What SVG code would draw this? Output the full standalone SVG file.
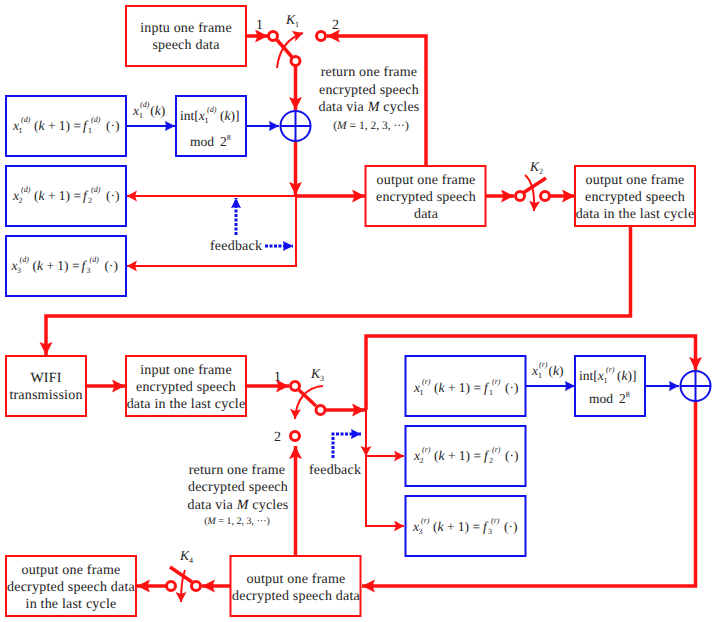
<svg xmlns="http://www.w3.org/2000/svg" width="717" height="622" viewBox="0 0 717 622">
<style>
text{font-family:"Liberation Serif","Times New Roman",serif;font-size:14px;fill:#222;letter-spacing:.2px;text-rendering:geometricPrecision}
.c{text-anchor:middle}
.m{font-size:13.5px;letter-spacing:0}
.i{font-style:italic}
.s{font-size:8px;letter-spacing:0}
.rb{fill:#fff;stroke:#f11;stroke-width:2}
.bb{fill:#fff;stroke:#11e;stroke-width:2}
.t3{fill:none;stroke:#f11;stroke-width:3.500}
.t2{fill:none;stroke:#f11;stroke-width:2}
.b2{fill:none;stroke:#11e;stroke-width:2.200}
.d{fill:none;stroke:#11e;stroke-width:3;stroke-dasharray:3 1.500}
.sw{fill:#fff;stroke:#f11;stroke-width:3}
.a{marker-end:url(#ar)}
.as{marker-end:url(#as)}
.ab{marker-end:url(#ab)}
</style>
<defs>
<marker id="ar" markerUnits="userSpaceOnUse" markerWidth="16" markerHeight="14" refX="13" refY="6.500" orient="auto"><path d="M0 0L13 6.500L0 13L2.500 6.500z" fill="#f11"/></marker>
<marker id="as" markerUnits="userSpaceOnUse" markerWidth="12" markerHeight="12" refX="10" refY="5.500" orient="auto"><path d="M0 0L10 5.500L0 11L2 5.500z" fill="#f11"/></marker>
<marker id="ab" markerUnits="userSpaceOnUse" markerWidth="12" markerHeight="12" refX="10" refY="5.500" orient="auto"><path d="M0 .5L10 5.500L0 10.500L1 5.500z" fill="#11e"/></marker>
</defs>

<g id="connectors">
<path class="t3 a" d="M246 36H268"/>
<path class="t3 a" d="M426 166V36H327"/>
<path class="t3" d="M277 40L292 57"/>
<path class="t2 as" d="M277 68C279 50 288 38 303 33"/>
<path class="t3 a" d="M295.500 66V110"/>
<path class="b2 ab" d="M126 126H175"/>
<path class="b2 ab" d="M246 126H279"/>
<path class="t3 a" d="M295.500 141V195"/>
<path class="t2 as" d="M296 196H127"/>
<path class="t3 a" d="M296 196H365"/>
<path class="t2 as" d="M296 196V266H127"/>
<path class="d ab" d="M236 235V198"/>
<path class="d ab" d="M265 246H293"/>
<path class="t3 a" d="M486 196H514"/>
<path class="t3" d="M523 193L546 178"/>
<path class="t2 as" d="M525 175C532 181 535 194 534 211"/>
<path class="t3 a" d="M550 196H575"/>
<path class="t3 a" d="M630.500 226V316H46V355"/>
<path class="t3 a" d="M86 386H125"/>
<path class="t3 a" d="M246 386H289"/>
<path class="t3" d="M299 390L316 406"/>
<path class="t2 as" d="M323 386C306 387 296 400 295 419"/>
<path class="t3 a" d="M325 410H365"/>
<path class="t3 a" d="M366 410V336H695.500V370"/>
<path class="t2 as" d="M366 410V456"/>
<path class="t2 as" d="M366 456H404"/>
<path class="t2 as" d="M366 456V526H404"/>
<path class="d ab" d="M333 458V434H361"/>
<path class="b2 ab" d="M526 386H575"/>
<path class="b2 ab" d="M645 386H679"/>
<path class="t3 a" d="M695.500 401V586H362"/>
<path class="t3 a" d="M295.500 556V446"/>
<path class="t3 a" d="M230 586H202"/>
<path class="t3" d="M170 567L192 582"/>
<path class="t2 as" d="M185 570C182 578 181 590 181 602"/>
<path class="t3 a" d="M166 586H137"/>
</g>

<g id="switches">
<circle class="sw" cx="273" cy="36" r="4.500"/><circle class="sw" cx="321" cy="36" r="4.500"/><circle class="sw" cx="295.500" cy="61" r="4.500"/>
<circle class="sw" cx="520" cy="196" r="4.500"/><circle class="sw" cx="545" cy="196" r="4.500"/>
<circle class="sw" cx="295" cy="386" r="4.500"/><circle class="sw" cx="320.500" cy="410" r="4.500"/><circle class="sw" cx="295" cy="436" r="4.500"/>
<circle class="sw" cx="171" cy="586" r="4.500"/><circle class="sw" cx="196" cy="586" r="4.500"/>
</g>

<g id="input-frame"><rect class="rb" x="126" y="6" width="120" height="60"/>
<text class="c" x="186" y="32">inptu one frame</text><text class="c" x="186" y="49">speech data</text></g>

<g id="x1d"><rect class="bb" x="6" y="96" width="120" height="60"/>
<text class="m" transform="translate(13 130)"><tspan class="i">x</tspan><tspan class="s" x="5.500" y="3">1</tspan><tspan class="s i" x="8" y="-8">(d)</tspan><tspan x="21" y="0">(</tspan><tspan class="i">k</tspan><tspan> + 1) = </tspan><tspan class="i" x="70">f</tspan><tspan class="s" x="75" y="3">1</tspan><tspan class="s i" x="78" y="-8">(d)</tspan><tspan x="93" y="0">(·)</tspan></text></g>
<g id="int-d"><rect class="bb" x="176" y="96" width="70" height="60"/>
<text class="m" transform="translate(180 120)">int[<tspan class="i">x</tspan><tspan class="s" x="24.500" y="3">1</tspan><tspan class="s i" x="27" y="-8">(d)</tspan><tspan x="40" y="0">(</tspan><tspan class="i">k</tspan><tspan>)]</tspan></text>
<text class="m" transform="translate(190 146)">mod<tspan x="30">2</tspan><tspan class="s" y="-6">8</tspan></text></g>
<g id="xor-d"><circle cx="295.500" cy="126" r="15" fill="#fff" stroke="#11e" stroke-width="2"/><path d="M280.500 126H310.500M295.500 111V141" stroke="#11e" stroke-width="2" fill="none"/></g>
<g id="x2d"><rect class="bb" x="6" y="166" width="120" height="60"/>
<text class="m" transform="translate(13 200)"><tspan class="i">x</tspan><tspan class="s" x="5.500" y="3">2</tspan><tspan class="s i" x="8" y="-8">(d)</tspan><tspan x="21" y="0">(</tspan><tspan class="i">k</tspan><tspan> + 1) = </tspan><tspan class="i" x="70">f</tspan><tspan class="s" x="75" y="3">2</tspan><tspan class="s i" x="78" y="-8">(d)</tspan><tspan x="93" y="0">(·)</tspan></text></g>
<g id="x3d"><rect class="bb" x="6" y="236" width="120" height="60"/>
<text class="m" transform="translate(11.500 270)"><tspan class="i">x</tspan><tspan class="s" x="5.500" y="3">3</tspan><tspan class="s i" x="8" y="-8">(d)</tspan><tspan x="21" y="0">(</tspan><tspan class="i">k</tspan><tspan> + 1) = </tspan><tspan class="i" x="70">f</tspan><tspan class="s" x="75" y="3">3</tspan><tspan class="s i" x="78" y="-8">(d)</tspan><tspan x="93" y="0">(·)</tspan></text></g>
<g id="out-enc"><rect class="rb" x="365.500" y="166" width="120" height="60"/>
<text class="c" x="426" y="184">output one frame</text><text class="c" x="426" y="201">encrypted speech</text><text class="c" x="426" y="218">data</text></g>
<g id="out-enc-last"><rect class="rb" x="575" y="166" width="120" height="60"/>
<text class="c" x="635" y="184">output one frame</text><text class="c" x="635" y="201">encrypted speech</text><text class="c" x="635" y="218">data in the last cycle</text></g>
<g id="wifi"><rect class="rb" x="6" y="356" width="80" height="60"/>
<text class="c" x="46" y="382">WIFI</text><text class="c" x="46" y="399">transmission</text></g>
<g id="input-enc"><rect class="rb" x="126" y="356" width="120" height="60"/>
<text class="c" x="186" y="374">input one frame</text><text class="c" x="186" y="391">encrypted speech</text><text class="c" x="186" y="408">data in the last cycle</text></g>
<g id="x1r"><rect class="bb" x="405.500" y="356" width="120" height="60"/>
<text class="m" transform="translate(414 392)"><tspan class="i">x</tspan><tspan class="s" x="5.500" y="3">1</tspan><tspan class="s i" x="8" y="-8">(r)</tspan><tspan x="20" y="0">(</tspan><tspan class="i">k</tspan><tspan> + 1) = </tspan><tspan class="i" x="70">f</tspan><tspan class="s" x="75" y="3">1</tspan><tspan class="s i" x="78" y="-8">(r)</tspan><tspan x="91" y="0">(·)</tspan></text></g>
<g id="int-r"><rect class="bb" x="575" y="356" width="70" height="60"/>
<text class="m" transform="translate(579 380)">int[<tspan class="i">x</tspan><tspan class="s" x="24.500" y="3">1</tspan><tspan class="s i" x="27" y="-8">(r)</tspan><tspan x="38" y="0">(</tspan><tspan class="i">k</tspan><tspan>)]</tspan></text>
<text class="m" transform="translate(589 403)">mod<tspan x="30">2</tspan><tspan class="s" y="-6">8</tspan></text></g>
<g id="xor-r"><circle cx="695.500" cy="386" r="15" fill="#fff" stroke="#11e" stroke-width="2"/><path d="M680.500 386H710.500M695.500 371V401" stroke="#11e" stroke-width="2" fill="none"/></g>
<g id="x2r"><rect class="bb" x="405.500" y="426" width="120" height="60"/>
<text class="m" transform="translate(414 460)"><tspan class="i">x</tspan><tspan class="s" x="5.500" y="3">2</tspan><tspan class="s i" x="8" y="-8">(r)</tspan><tspan x="20" y="0">(</tspan><tspan class="i">k</tspan><tspan> + 1) = </tspan><tspan class="i" x="70">f</tspan><tspan class="s" x="75" y="3">2</tspan><tspan class="s i" x="78" y="-8">(r)</tspan><tspan x="91" y="0">(·)</tspan></text></g>
<g id="x3r"><rect class="bb" x="405.500" y="496" width="120" height="60"/>
<text class="m" transform="translate(413 531)"><tspan class="i">x</tspan><tspan class="s" x="5.500" y="3">3</tspan><tspan class="s i" x="8" y="-8">(r)</tspan><tspan x="20" y="0">(</tspan><tspan class="i">k</tspan><tspan> + 1) = </tspan><tspan class="i" x="70">f</tspan><tspan class="s" x="75" y="3">3</tspan><tspan class="s i" x="78" y="-8">(r)</tspan><tspan x="91" y="0">(·)</tspan></text></g>
<g id="out-dec"><rect class="rb" x="230.500" y="556" width="130" height="60"/>
<text class="c" x="296" y="583">output one frame</text><text class="c" x="296" y="600">decrypted speech data</text></g>
<g id="out-dec-last"><rect class="rb" x="6" y="556" width="130" height="60"/>
<text class="c" x="71" y="574">output one frame</text><text class="c" x="71" y="591">decrypted speech data</text><text class="c" x="71" y="608">in the last cycle</text></g>

<g id="labels">
<text x="256" y="29">1</text><text x="332" y="29">2</text>
<text class="i m" x="286" y="24">K<tspan class="s" style="font-style:normal" dy="3">1</tspan></text>
<text class="i m" x="530" y="171">K<tspan class="s" style="font-style:normal" dy="3">2</tspan></text>
<text class="i m" x="311" y="378">K<tspan class="s" style="font-style:normal" dy="3">3</tspan></text>
<text class="i m" x="180" y="560">K<tspan class="s" style="font-style:normal" dy="3">4</tspan></text>
<text x="274" y="381">1</text><text x="274" y="441">2</text>
<text class="c" x="369" y="76">return one frame</text><text class="c" x="369" y="94">encrypted speech</text>
<text class="c" x="369" y="111">data via <tspan class="i">M</tspan> cycles</text>
<text class="c m" x="371" y="129" style="font-size:11.500px">(<tspan class="i">M</tspan> = 1, 2, 3, ···)</text>
<text class="c" x="237" y="474">return one frame</text><text class="c" x="238" y="491">decrypted speech</text>
<text class="c" x="238" y="509">data via <tspan class="i">M</tspan> cycles</text>
<text class="c m" x="237" y="524" style="font-size:10px">(<tspan class="i">M</tspan> = 1, 2, 3, ···)</text>
<text x="210" y="250">feedback</text><text x="309" y="474">feedback</text>
<text class="m" x="133" y="115"><tspan class="i">x</tspan><tspan class="s" dy="3">1</tspan><tspan class="s i" dx="-3" dy="-11">(d)</tspan><tspan dx="1" dy="8">(</tspan><tspan class="i">k</tspan><tspan>)</tspan></text>
<text class="m" x="532" y="375"><tspan class="i">x</tspan><tspan class="s" dy="3">1</tspan><tspan class="s i" dx="-3" dy="-11">(r)</tspan><tspan dx="1" dy="8">(</tspan><tspan class="i">k</tspan><tspan>)</tspan></text>
</g>
</svg>
